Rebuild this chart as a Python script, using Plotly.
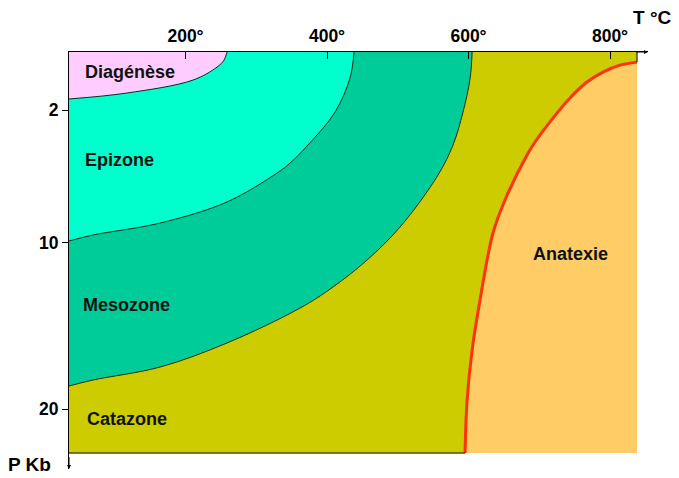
import plotly.graph_objects as go

# ---------------- data (T in °C, P in kbar) ----------------
temp_ticks = [200, 400, 600, 800]
temp_labels = ["200°", "400°", "600°", "800°"]
pres_ticks = [2, 10, 20]
pres_labels = ["2", "10", "20"]

# extent of the diagram
T_left, T_right = 35.3, 838.2
P_top, P_bottom = -1.5, 22.65

# boundary curves
diag_T = [258.7, 254.4, 244.5, 210.6, 117.3, 35.3]
diag_P = [-1.50, -1.01, -0.59, 0.19, 0.97, 1.33]

epi_T = [438.2, 432.5, 411.3, 373.1, 347.7, 329.3, 258.7, 164.0, 69.3, 35.3]
epi_P = [-1.50, 0.07, 2.12, 4.10, 5.19, 5.79, 7.53, 8.80, 9.52, 9.88]

meso_T = [605.1, 602.3, 592.2, 578.1, 556.9, 503.2, 456.5, 408.5, 361.8, 258.7, 164.0, 69.3, 35.3]
meso_P = [-1.50, 0.07, 2.12, 4.10, 5.91, 9.04, 11.03, 12.65, 13.92, 16.02, 17.47, 18.25, 18.61]

anat_T = [838.2, 814.1, 790.1, 767.5, 743.5, 719.4, 694.0, 682.7, 651.6, 634.6, 616.3, 605.1, 598.0, 595.1]
anat_P = [-0.89, -0.71, -0.29, 0.31, 1.27, 2.48, 3.92, 4.70, 7.41, 9.40, 13.43, 16.45, 19.46, 22.65]

zone_names = ["Diagénèse", "Epizone", "Mesozone", "Catazone", "Anatexie"]

# ---------------- styles ----------------
C_DIAG = "#FFCCFF"
C_EPI = "#00FFCC"
C_MESO = "#00CC99"
C_CATA = "#CCCC00"
C_ANAT = "#FFCC66"
C_RED = "#FF3300"
FONT = "Liberation Sans, Arial, sans-serif"

fig = go.Figure()

# Catazone: full background rectangle
fig.add_trace(go.Scatter(
    x=[T_left, T_right, T_right, T_left, T_left],
    y=[P_top, P_top, P_bottom, P_bottom, P_top],
    mode="lines", fill="toself", fillcolor=C_CATA,
    line=dict(width=0), hoverinfo="skip", showlegend=False))


def zone(curve_T, curve_P, color, line_color, line_width):
    # invisible baseline along the top edge (same direction as the curve),
    # then the curve filled to it
    fig.add_trace(go.Scatter(
        x=[curve_T[0], curve_T[-1]], y=[P_top, P_top],
        mode="lines", line=dict(width=0), hoverinfo="skip", showlegend=False))
    fig.add_trace(go.Scatter(
        x=curve_T, y=curve_P, mode="lines", fill="tonexty", fillcolor=color,
        line=dict(color=line_color, width=line_width, shape="spline"),
        hoverinfo="skip", showlegend=False))


zone(meso_T, meso_P, C_MESO, "#0B2A1A", 1)
zone(epi_T, epi_P, C_EPI, "#0B2A1A", 1)
zone(diag_T, diag_P, C_DIAG, "#0B2A1A", 1)

# Anatexie: baseline along the right edge, top to bottom
fig.add_trace(go.Scatter(
    x=[T_right, T_right], y=[anat_P[0], anat_P[-1]],
    mode="lines", line=dict(width=0), hoverinfo="skip", showlegend=False))
fig.add_trace(go.Scatter(
    x=anat_T, y=anat_P, mode="lines", fill="tonexty", fillcolor=C_ANAT,
    line=dict(color=C_RED, width=3, shape="spline"),
    hoverinfo="skip", showlegend=False))

# black outline pieces of the Catazone
fig.add_trace(go.Scatter(
    x=[T_left, anat_T[-1]], y=[P_bottom, P_bottom], mode="lines",
    line=dict(color="black", width=1), hoverinfo="skip", showlegend=False))
fig.add_trace(go.Scatter(
    x=[T_right, T_right], y=[P_top, anat_P[0]], mode="lines",
    line=dict(color="black", width=1), hoverinfo="skip", showlegend=False))

# zone labels
label_pos = [(55.1, -0.29, "left"), (55.1, 5.01, "left"), (52.3, 13.74, "left"),
             (58.0, 20.6, "left"), (743.5, 10.67, "center")]
for name, (tx, py, anchor) in zip(zone_names, label_pos):
    fig.add_annotation(x=tx, y=py, text=name, showarrow=False, xanchor=anchor,
                       yanchor="middle",
                       font=dict(family=FONT, size=18, color="#111", weight="bold"))

# axis arrows
fig.add_annotation(x=853.7, y=P_top, ax=835, ay=P_top, xref="x", yref="y",
                   axref="x", ayref="y", showarrow=True, arrowhead=2,
                   arrowsize=0.8, arrowwidth=1, arrowcolor="black", text="")
fig.add_annotation(x=T_left, y=23.61, ax=T_left, ay=22.8, xref="x", yref="y",
                   axref="x", ayref="y", showarrow=True, arrowhead=2,
                   arrowsize=0.8, arrowwidth=1, arrowcolor="black", text="")

# page offset of the plot div (default body margin)
OFF = 8
W, H = 679 - OFF, 478 - OFF
ML, MR, MT, MB = 69 - OFF, 31, 52 - OFF, 9

# axis titles (positions given in page pixels)
titles = [("T °C", 652, 17), ("P Kb", 29, 464)]
for txt, px, py in titles:
    fx = px - OFF
    fy = py - OFF
    fig.add_annotation(x=(fx - ML) / (W - ML - MR), y=1 - (fy - MT) / (H - MT - MB),
                       xref="paper", yref="paper", text=txt, showarrow=False,
                       xanchor="center", yanchor="middle", borderpad=0,
                       font=dict(family=FONT, size=19, color="black", weight="bold"))

fig.update_layout(
    width=W, height=H,
    margin=dict(l=ML, r=MR, t=MT, b=MB, pad=0),
    paper_bgcolor="white", plot_bgcolor="white",
    xaxis=dict(range=[35.3, 853.7], side="top", showgrid=False, zeroline=False,
               showline=True, linecolor="black", linewidth=1,
               tickvals=temp_ticks, ticktext=temp_labels,
               ticks="inside", ticklen=7, tickcolor="black", tickwidth=1,
               ticklabelstandoff=2,
               tickfont=dict(family=FONT, size=17.5, color="black", weight="bold"),
               automargin=False, fixedrange=True),
    yaxis=dict(range=[23.61, -1.5], showgrid=False, zeroline=False,
               showline=True, linecolor="black", linewidth=1,
               tickvals=pres_ticks, ticktext=pres_labels,
               ticks="outside", ticklen=6, tickcolor="black", tickwidth=1,
               tickfont=dict(family=FONT, size=17.5, color="black", weight="bold"),
               automargin=False, fixedrange=True),
    showlegend=False,
)

fig.write_html("out.html")
